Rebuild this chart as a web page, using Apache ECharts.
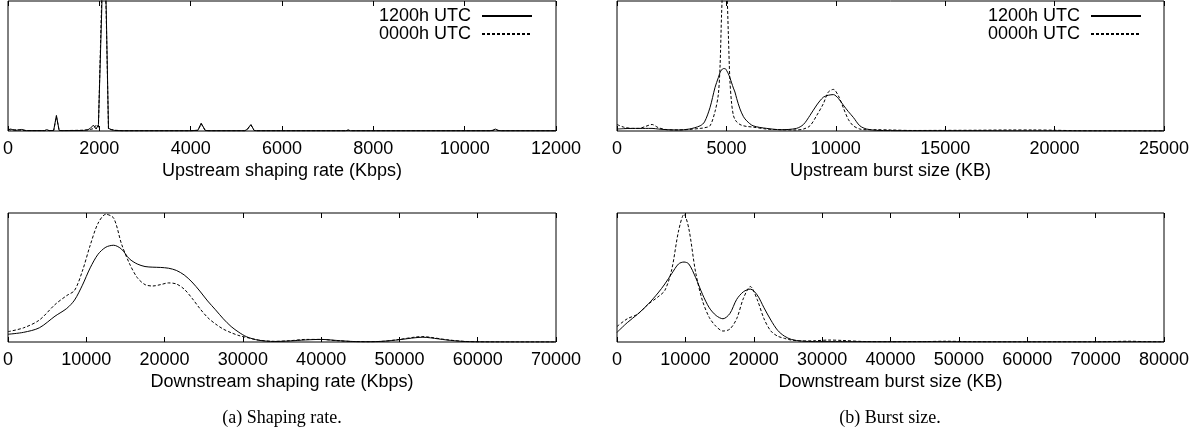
<!DOCTYPE html>
<html>
<head>
<meta charset="utf-8">
<title>Shaping rate and burst size</title>
<script src="https://cdn.jsdelivr.net/npm/echarts@6/dist/echarts.min.js"></script>
<style>
  html, body { margin: 0; padding: 0; background: #fff; }
  #chart { width: 1201px; height: 437px; }
</style>
</head>
<body>
<div id="chart"></div>
<script>
// Series names shared by all four panels
const seriesNames = ['1200h UTC', '0000h UTC'];

// Upstream shaping rate (Kbps) – density, two snapshots
const upRateX = [0, 60, 150, 300, 400, 800, 850, 900, 1000, 1060, 1120, 1200, 1650, 1750, 1800, 1870, 1930, 1980, 2050, 2100, 2150, 2200, 2260, 2340, 2500, 4000, 4160, 4230, 4320, 4400, 5180, 5230, 5320, 5390, 5450, 7400, 7450, 7500, 10550, 10620, 10670, 10730, 10800, 12000];
const upRate1200 = [0.010, 0.015, 0.004, 0.012, 0.003, 0.003, 0.010, 0.003, 0.004, 0.120, 0.004, 0.003, 0.004, 0.010, 0.020, 0.045, 0.015, 0.050, 0.900, 1.600, 0.950, 0.020, 0.012, 0.004, 0.002, 0.002, 0.006, 0.060, 0.004, 0.002, 0.002, 0.010, 0.050, 0.004, 0.002, 0.002, 0.008, 0.002, 0.002, 0.006, 0.015, 0.005, 0.002, 0.002];
const upRate0000 = [0.012, 0.008, 0.010, 0.006, 0.003, 0.003, 0.008, 0.003, 0.004, 0.110, 0.004, 0.003, 0.006, 0.008, 0.012, 0.018, 0.045, 0.030, 1.000, 1.550, 0.900, 0.015, 0.010, 0.006, 0.002, 0.002, 0.005, 0.055, 0.004, 0.002, 0.002, 0.008, 0.045, 0.004, 0.002, 0.002, 0.006, 0.002, 0.002, 0.004, 0.012, 0.004, 0.002, 0.002];

// Upstream burst size (KB)
const upBurstX = [0, 300, 700, 1000, 1300, 1600, 1900, 2300, 2800, 3300, 3800, 4000, 4250, 4480, 4630, 4710, 4780, 4860, 4940, 5010, 5090, 5160, 5240, 5320, 5390, 5470, 5620, 5780, 5930, 6220, 6840, 7500, 8200, 8520, 8820, 9130, 9430, 9660, 9890, 10120, 10340, 10570, 10800, 11100, 11410, 11870, 12500, 13500, 15000, 16500, 18000, 19000, 20000, 21000, 22000, 23500, 25000];
const upBurst1200 = [0.015, 0.018, 0.02, 0.02, 0.02, 0.02, 0.015, 0.01, 0.008, 0.015, 0.04, 0.07, 0.18, 0.335, 0.41, 0.45, 0.47, 0.48, 0.48, 0.465, 0.44, 0.41, 0.37, 0.33, 0.30, 0.25, 0.17, 0.11, 0.078, 0.04, 0.02, 0.01, 0.02, 0.05, 0.12, 0.20, 0.26, 0.275, 0.28, 0.25, 0.20, 0.15, 0.105, 0.04, 0.015, 0.005, 0.003, 0.002, 0.002, 0.002, 0.001, 0.001, 0.001, 0.001, 0.001, 0.001, 0.001];
const upBurst0000 = [0.05, 0.03, 0.02, 0.02, 0.035, 0.05, 0.025, 0.01, 0.008, 0.012, 0.02, 0.025, 0.04, 0.15, 0.28, 0.50, 0.90, 1.20, 1.30, 1.15, 0.74, 0.39, 0.21, 0.12, 0.09, 0.07, 0.05, 0.04, 0.035, 0.03, 0.015, 0.01, 0.008, 0.015, 0.04, 0.12, 0.21, 0.30, 0.32, 0.27, 0.18, 0.09, 0.04, 0.015, 0.01, 0.01, 0.008, 0.004, 0.005, 0.006, 0.008, 0.008, 0.006, 0.002, 0.001, 0.001, 0.001];

// Downstream shaping rate (Kbps)
const downRateX = [0, 2000, 4000, 6000, 7500, 8500, 9500, 10500, 11500, 12500, 13500, 14500, 15500, 16500, 17500, 18500, 19500, 20500, 21500, 22500, 23500, 24500, 25500, 26500, 27500, 28500, 29500, 30500, 32000, 34000, 36000, 38000, 40000, 42000, 44000, 46000, 48000, 50000, 52000, 53000, 54000, 56000, 58000, 60000, 65000, 70000];
const downRate1200 = [0.06, 0.075, 0.11, 0.20, 0.26, 0.325, 0.44, 0.575, 0.68, 0.735, 0.75, 0.72, 0.645, 0.605, 0.585, 0.58, 0.578, 0.572, 0.555, 0.52, 0.465, 0.395, 0.318, 0.25, 0.18, 0.12, 0.075, 0.04, 0.014, 0.004, 0.008, 0.016, 0.02, 0.012, 0.004, 0.002, 0.006, 0.018, 0.033, 0.037, 0.032, 0.016, 0.005, 0.001, 0, 0];
const downRate0000 = [0.08, 0.11, 0.17, 0.29, 0.36, 0.40, 0.55, 0.75, 0.92, 0.99, 0.96, 0.76, 0.61, 0.50, 0.445, 0.434, 0.445, 0.458, 0.45, 0.41, 0.34, 0.26, 0.19, 0.14, 0.10, 0.072, 0.05, 0.035, 0.015, 0.005, 0.01, 0.02, 0.02, 0.01, 0.004, 0.002, 0.006, 0.02, 0.038, 0.042, 0.036, 0.018, 0.006, 0.001, 0, 0];

// Downstream burst size (KB)
const downBurstX = [0, 1500, 3000, 4500, 6000, 7000, 8000, 9000, 9800, 10500, 11500, 12500, 13500, 14500, 15500, 16500, 17500, 18500, 19500, 20500, 21500, 22500, 23500, 24500, 25500, 27000, 29000, 31000, 33000, 36000, 40000, 45000, 48000, 52000, 60000, 70000, 75000, 77000, 80000];
const downBurst1200 = [0.075, 0.15, 0.215, 0.29, 0.38, 0.45, 0.53, 0.605, 0.62, 0.605, 0.50, 0.37, 0.265, 0.205, 0.18, 0.22, 0.33, 0.39, 0.41, 0.365, 0.265, 0.17, 0.09, 0.045, 0.02, 0.007, 0.003, 0.003, 0.003, 0.002, 0.002, 0.002, 0.002, 0.001, 0.001, 0.001, 0.001, 0.001, 0.001];
const downBurst0000 = [0.12, 0.18, 0.215, 0.29, 0.35, 0.40, 0.56, 0.86, 0.99, 0.88, 0.54, 0.32, 0.19, 0.12, 0.085, 0.10, 0.18, 0.34, 0.43, 0.33, 0.18, 0.085, 0.045, 0.028, 0.015, 0.008, 0.01, 0.015, 0.012, 0.004, 0.002, 0.003, 0.006, 0.002, 0.001, 0.001, 0.006, 0.003, 0.001];

// Axis ranges and tick steps, one per panel
const axisMax = [12000, 25000, 70000, 80000];
const axisStep = [2000, 5000, 10000, 10000];
const axisTitles = ['Upstream shaping rate (Kbps)', 'Upstream burst size (KB)', 'Downstream shaping rate (Kbps)', 'Downstream burst size (KB)'];
const captions = ['(a) Shaping rate.', '(b) Burst size.'];

const SANS = '"Liberation Sans", Arial, Helvetica, sans-serif';
const SERIF = '"Liberation Serif", "Times New Roman", serif';

const panels = [
  { x: upRateX, a: upRate1200, b: upRate0000, smooth: false },
  { x: upBurstX, a: upBurst1200, b: upBurst0000, smooth: 0.3 },
  { x: downRateX, a: downRate1200, b: downRate0000, smooth: 0.3 },
  { x: downBurstX, a: downBurst1200, b: downBurst0000, smooth: 0.3 }
];

// Plot frames: left column / right column, top row / bottom row
const grids = [
  { left: 8, top: 1, width: 548, height: 130 },
  { left: 617, top: 1, width: 547, height: 130 },
  { left: 8, top: 213, width: 548, height: 129 },
  { left: 617, top: 213, width: 547, height: 129 }
].map(g => Object.assign({ show: true, borderColor: '#000', borderWidth: 1, backgroundColor: 'transparent', containLabel: false }, g));

const zip = (xs, ys) => xs.map((v, i) => [v, ys[i]]);

const xAxes = [];
const yAxes = [];
const series = [];
panels.forEach((p, i) => {
  const common = {
    type: 'value', gridIndex: i, min: 0, max: axisMax[i], interval: axisStep[i],
    axisLine: { show: false },
    axisTick: { show: true, inside: true, length: 5, lineStyle: { color: '#000', width: 1 } },
    splitLine: { show: false }
  };
  xAxes.push(Object.assign({}, common, {
    position: 'bottom',
    axisLabel: { color: '#000', fontSize: 18, fontFamily: SANS, margin: 9, formatter: v => String(v) },
    name: axisTitles[i], nameLocation: 'middle', nameGap: 31,
    nameTextStyle: { color: '#000', fontSize: 18, fontFamily: SANS }
  }));
  xAxes.push(Object.assign({}, common, { position: 'top', axisLabel: { show: false } }));
  yAxes.push({ type: 'value', gridIndex: i, min: 0, max: 1, show: false });
  const xIdx = i * 2;
  series.push({
    name: seriesNames[0], type: 'line', xAxisIndex: xIdx, yAxisIndex: i,
    data: zip(p.x, p.a), smooth: p.smooth, symbol: 'none', showSymbol: false,
    lineStyle: { color: '#000', width: 1, type: 'solid' }, itemStyle: { color: '#000' },
    clip: true, silent: true
  });
  series.push({
    name: seriesNames[1], type: 'line', xAxisIndex: xIdx, yAxisIndex: i,
    data: zip(p.x, p.b), smooth: p.smooth, symbol: 'none', showSymbol: false,
    lineStyle: { color: '#000', width: 1, type: [3, 2] }, itemStyle: { color: '#000' },
    clip: true, silent: true
  });
});

// Key boxes: label on the left, plain line sample on the right
const legendBase = {
  data: seriesNames, orient: 'vertical', align: 'right', top: 7, padding: 0,
  itemWidth: 50, itemHeight: 18, itemGap: 0, selectedMode: false,
  itemStyle: { opacity: 0 },
  textStyle: { color: '#000', fontSize: 18, fontFamily: SANS, lineHeight: 18, padding: [0, 6, 0, 0] }
};

const option = {
  animation: false,
  backgroundColor: '#fff',
  grid: grids,
  xAxis: xAxes,
  yAxis: yAxes,
  legend: [
    Object.assign({}, legendBase, { right: 1201 - 533 }),
    Object.assign({}, legendBase, { right: 1201 - 1142 })
  ],
  graphic: [
    { type: 'text', x: 282, y: 418, style: { text: captions[0], align: 'center', verticalAlign: 'middle', font: '18px ' + SERIF, fill: '#000' } },
    { type: 'text', x: 890, y: 418, style: { text: captions[1], align: 'center', verticalAlign: 'middle', font: '18px ' + SERIF, fill: '#000' } }
  ],
  series: series
};

const chart = echarts.init(document.getElementById('chart'), null, { renderer: 'canvas' });
chart.setOption(option);
</script>
</body>
</html>
